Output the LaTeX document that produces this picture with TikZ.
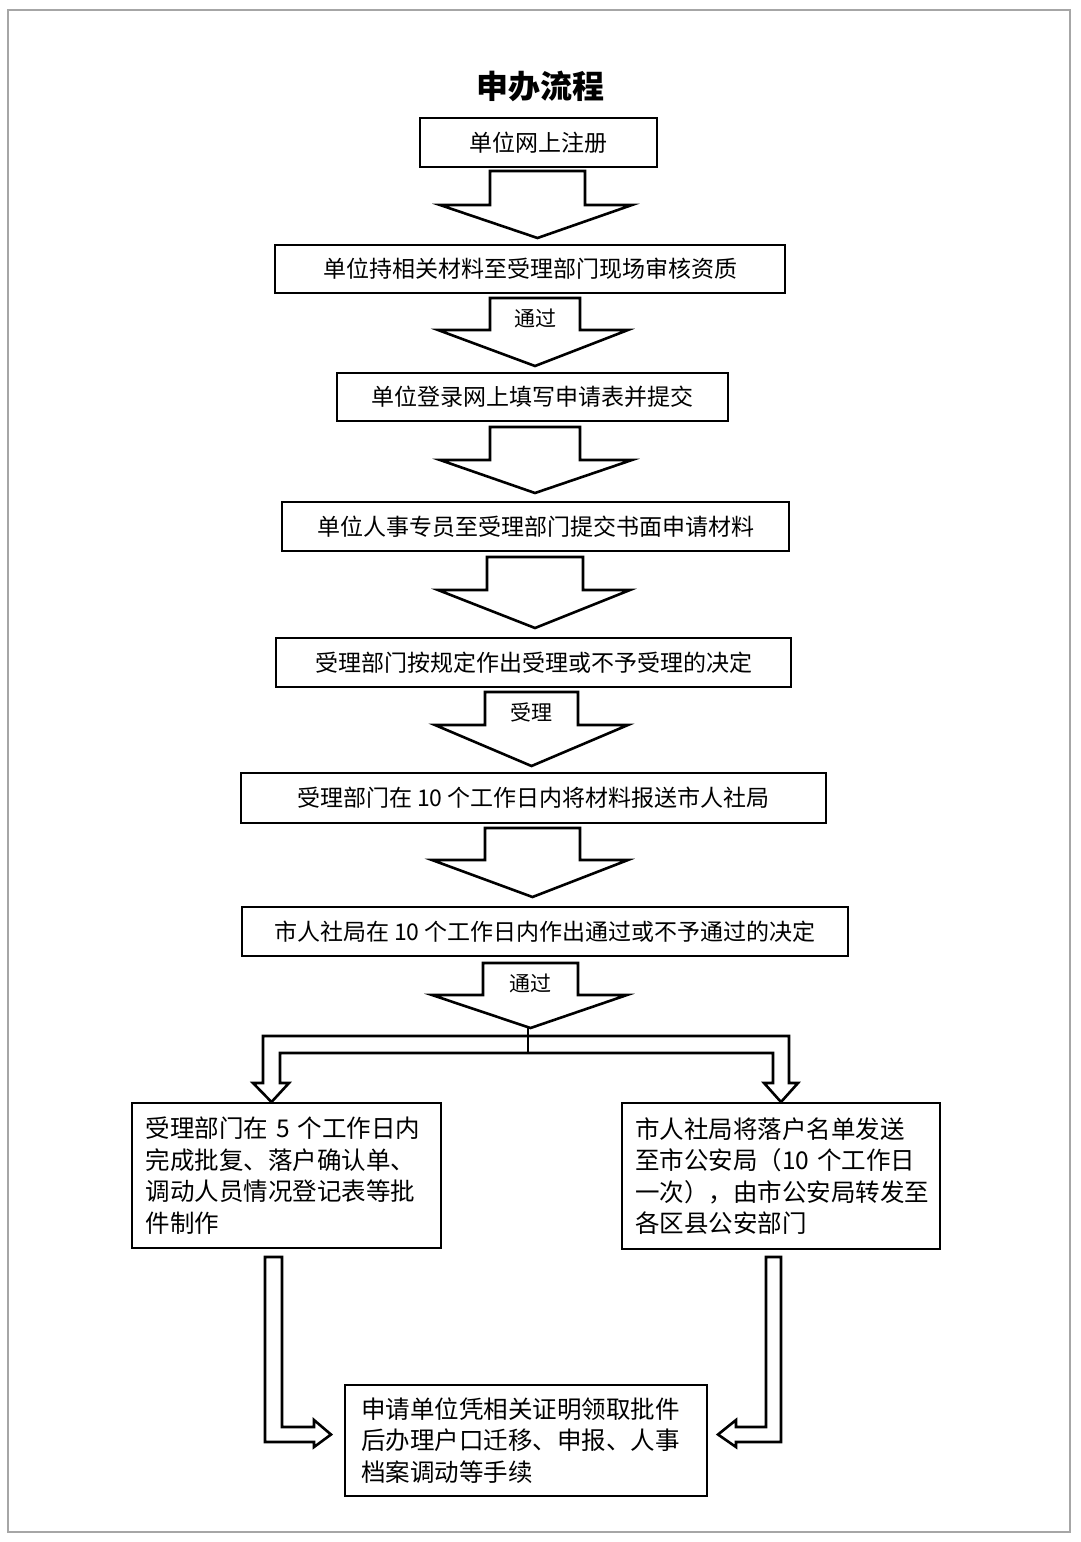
\documentclass[tikz,border=0pt]{standalone}
\usepackage{fontspec}
\newfontfamily\cjk{Noto Sans CJK SC}
\begin{document}
\begin{tikzpicture}[x=1pt,y=-1pt,
 box/.style={draw,line width=1.2pt,inner sep=0pt,font=\cjk\fontsize{23}{31}\selectfont},
 big/.style={font=\cjk\fontsize{24.5}{31.5}\selectfont},
 ar/.style={draw,line width=2.6pt,line join=miter,fill=white}]
\useasboundingbox (0,0) rectangle (1080,1542);
\draw[gray!70,line width=1.5pt] (8,10) rectangle (1070,1532);
\node[font=\cjk\bfseries\fontsize{32}{36}\selectfont] (title) at (540,86) {申办流程};
\newcommand\bx[6]{\node[box,minimum width=#4-#2,minimum height=#5-#3] (#1) at ({(#2+#4)/2},{(#3+#5)/2}) {#6};}
\bx{b1}{420}{118}{657}{167}{单位网上注册}
\bx{b2}{275}{245}{785}{293}{单位持相关材料至受理部门现场审核资质}
\bx{b3}{337}{373}{728}{421}{单位登录网上填写申请表并提交}
\bx{b4}{282}{502}{789}{551}{单位人事专员至受理部门提交书面申请材料}
\bx{b5}{276}{638}{791}{687}{受理部门按规定作出受理或不予受理的决定}
\bx{b6}{241}{773}{826}{823}{受理部门在 10 个工作日内将材料报送市人社局}
\bx{b7}{242}{907}{848}{956}{市人社局在 10 个工作日内作出通过或不予通过的决定}
\node[box,big,minimum width=309,minimum height=145,text width=282,align=left] (b8) at (286.5,1175.5) {受理部门在 5 个工作日内\\完成批复、落户确认单、\\调动人员情况登记表等批\\件制作};
\node[box,big,minimum width=318,minimum height=146,text width=292,align=left] (b9) at (781,1176) {市人社局将落户名单发送\\至市公安局（10 个工作日\\一次），由市公安局转发至\\各区县公安部门};
\node[box,big,minimum width=362,minimum height=111,text width=330,align=left] (b10) at (526,1440.5) {申请单位凭相关证明领取批件\\后办理户口迁移、申报、人事\\档案调动等手续};
\newcommand\barr[8]{\draw[ar] (#1,#3) -- (#2,#3) -- (#2,#4) -- (#6,#4) -- ({(#1+#2)/2},#7) -- (#5,#4) -- (#1,#4) -- cycle;
 \node[font=\cjk\fontsize{21}{24}\selectfont] at ({(#1+#2)/2},{(#3+#4)/2+4}) {#8};}
\barr{490}{585}{171}{205}{440}{632}{238}{}
\barr{490}{580}{298}{330}{438}{628}{366}{通过}
\barr{490}{580}{427}{460}{440}{632}{493}{}
\barr{487}{583}{557}{590}{438}{630}{628}{}
\barr{485}{578}{692}{725}{435}{628}{766}{受理}
\barr{485}{580}{828}{860}{432}{628}{897}{}
\barr{483}{578}{963}{995}{432}{627}{1028}{通过}
\draw[line width=2.6pt] (528,1028) -- (528,1053);
\draw[ar,fill=none] (280,1083) -- (280,1053) -- (773,1053) -- (773,1083) -- (764,1083) -- (781,1102) -- (798,1083) -- (789,1083) -- (789,1036) -- (263,1036) -- (263,1083) -- (253,1083) -- (271.5,1102) -- (289,1083) -- cycle;
\draw[ar,fill=none] (265,1257) -- (282,1257) -- (282,1427) -- (314,1427) -- (314,1420) -- (331,1434.5) -- (314,1447) -- (314,1442) -- (265,1442) -- cycle;
\draw[ar,fill=none] (781,1257) -- (766,1257) -- (766,1427) -- (736,1427) -- (736,1420) -- (718,1434.5) -- (736,1447) -- (736,1442) -- (781,1442) -- cycle;
\end{tikzpicture}
\end{document}
